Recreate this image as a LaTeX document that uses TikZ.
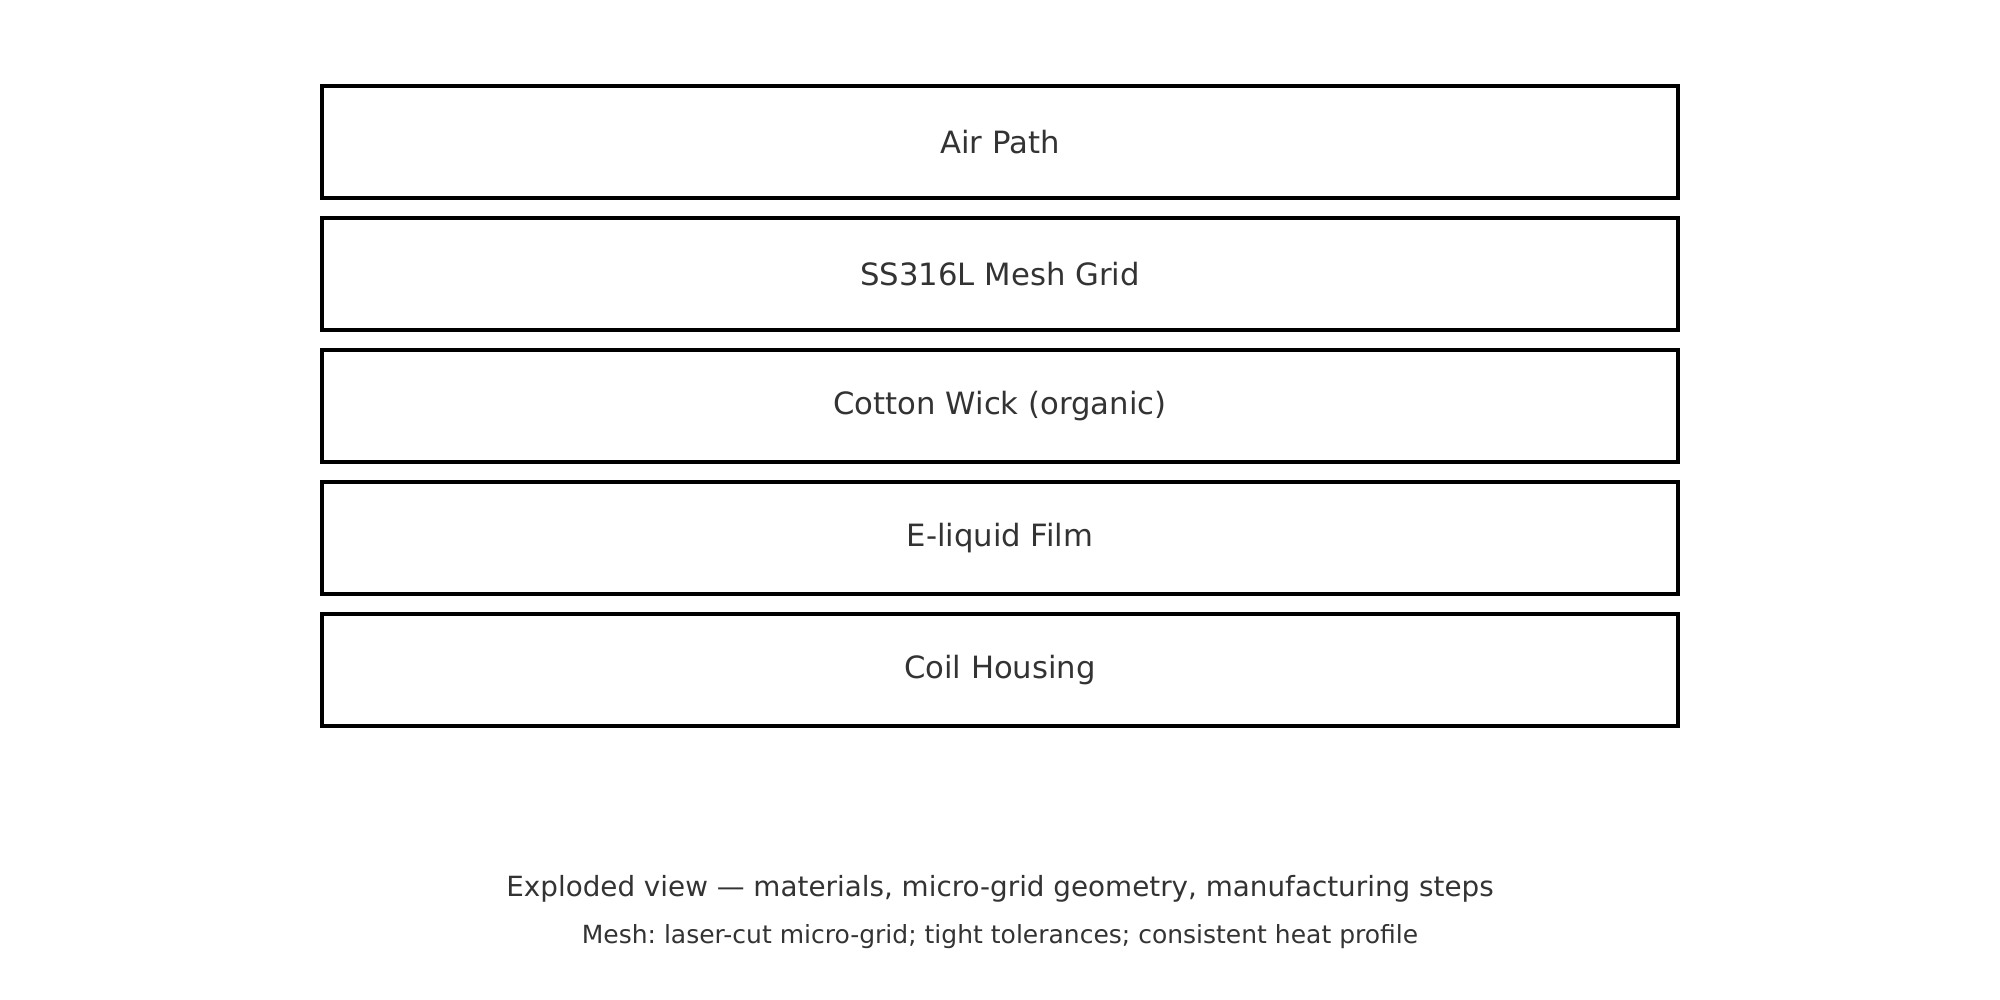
\documentclass[tikz,border=0pt]{standalone}
\usepackage{fontspec}
\setmainfont{DejaVu Sans}
\usepackage{tikz}
\usetikzlibrary{positioning}

\definecolor{textgray}{HTML}{333333}
\frenchspacing

\begin{document}
\begin{tikzpicture}
	[x=1pt,y=1pt,node distance=10pt,
		layer node/.style={rectangle,draw=black,line width=2pt,outer sep=0pt,inner sep=0pt,minimum width=678pt,minimum height=56pt,text=textgray,font=\fontsize{15.35pt}{18pt}\selectfont},
		caption node/.style={text=textgray,inner sep=0pt}]

	\useasboundingbox (0,0) rectangle (1000,500);

	\node[layer node] (air) at (500,429) {Air Path};
	\node[layer node, below=of air] (mesh) {SS316L Mesh Grid};
	\node[layer node, below=of mesh] (wick) {Cotton Wick (organic)};
	\node[layer node, below=of wick] (liquid) {E-liquid Film};
	\node[layer node, below=of liquid] (coil) {Coil Housing};

	% captions
	\node[caption node, font=\fontsize{13.9pt}{16pt}\selectfont] (title) at (500,55.7) {Exploded view — materials, micro-grid geometry, manufacturing steps};
	\node[caption node, font=\fontsize{12.5pt}{14pt}\selectfont] (note) at (500,31.7) {Mesh: laser-cut micro-grid; tight tolerances; consistent heat profile};
\end{tikzpicture}
\end{document}
